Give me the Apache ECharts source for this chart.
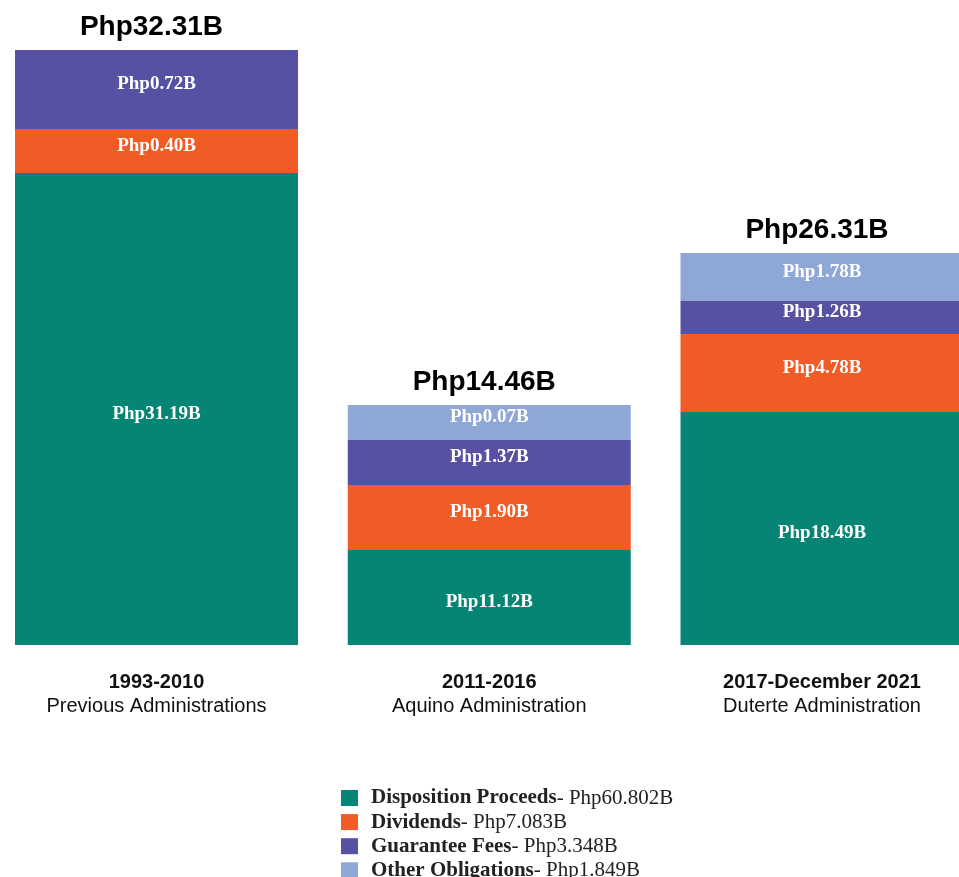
<!DOCTYPE html>
<html>
<head>
<meta charset="utf-8">
<script src="https://cdn.jsdelivr.net/npm/echarts@6/dist/echarts.min.js"></script>
<style>
  html, body { margin: 0; padding: 0; background: #fff; overflow: hidden; }
  #main { width: 959px; height: 900px; }
</style>
</head>
<body>
<div id="main"></div>
<script>
// periods and administrations (x axis)
var periods = ["1993-2010", "2011-2016", "2017-December 2021"];
var admins = ["Previous Administrations", "Aquino Administration", "Duterte Administration"];

// segment heights as drawn in the picture (the infographic is not to scale)
var dispositionDrawn = [472, 95, 233];
var dividendsDrawn = [44, 65, 78];
var guaranteeDrawn = [79, 45, 33];
var otherDrawn = [0, 35, 48];

// amounts printed on the segments, in billions of pesos
var dispositionText = ["31.19", "11.12", "18.49"];
var dividendsText = ["0.40", "1.90", "4.78"];
var guaranteeText = ["0.72", "1.37", "1.26"];
var otherText = ["", "0.07", "1.78"];

// totals above each bar
var totalText = ["32.31", "14.46", "26.31"];

// legend entries and their overall totals
var seriesNames = ["Disposition Proceeds", "Dividends", "Guarantee Fees", "Other Obligations"];
var legendTotals = ["60.802", "7.083", "3.348", "1.849"];

var colors = ["#068575", "#F15B26", "#5651A3", "#8FA7D6"];
var serif = "'Liberation Serif', 'DejaVu Serif', serif";
var sans = "'Liberation Sans', Arial, sans-serif";

function segment(name, values, texts, color, dy) {
  return {
    name: name,
    type: "bar",
    stack: "all",
    barWidth: 283,
    clip: false,
    data: values,
    itemStyle: { color: color },
    label: {
      show: true,
      position: "inside",
      offset: [0, dy],
      color: "#fff",
      fontFamily: serif,
      fontWeight: "bold",
      fontSize: 19,
      formatter: function (p) {
        return texts[p.dataIndex] ? "Php" + texts[p.dataIndex] + "B" : "";
      }
    }
  };
}

var myChart = echarts.init(document.getElementById("main"));
myChart.setOption({
  animation: false,
  color: colors,
  // bars sit on the category points, so the grid spans the first to last bar centre
  grid: { left: 156.5, right: 137, top: 0, bottom: 255 },
  xAxis: {
    type: "category",
    data: periods,
    boundaryGap: false,
    axisLine: { show: false },
    axisTick: { show: false },
    axisLabel: {
      interval: 0,
      margin: 25,
      formatter: function (v, i) {
        return "{b|" + v + "}\n{n|" + admins[i] + "}";
      },
      rich: {
        b: { fontFamily: sans, fontWeight: "bold", fontSize: 20, lineHeight: 24, color: "#111" },
        n: { fontFamily: sans, fontSize: 20, lineHeight: 24, color: "#111" }
      }
    }
  },
  yAxis: { type: "value", min: 0, max: 645, show: false, splitLine: { show: false } },
  legend: {
    data: seriesNames,
    orient: "vertical",
    left: 341,
    top: 787.5,
    padding: 0,
    icon: "rect",
    itemWidth: 17,
    itemHeight: 16,
    itemGap: 3.1,
    selectedMode: false,
    formatter: function (name) {
      var i = seriesNames.indexOf(name);
      return "{b|" + name + "}{r|- Php" + legendTotals[i] + "B}";
    },
    textStyle: {
      rich: {
        b: { fontFamily: serif, fontWeight: "bold", fontSize: 21, lineHeight: 20, color: "#222", padding: [0, 0, 0, 8] },
        r: { fontFamily: serif, fontSize: 21, lineHeight: 20, color: "#222" }
      }
    }
  },
  series: [
    segment(seriesNames[0], dispositionDrawn, dispositionText, colors[0], 5),
    segment(seriesNames[1], dividendsDrawn, dividendsText, colors[1], -5),
    segment(seriesNames[2], guaranteeDrawn, guaranteeText, colors[2], -5),
    segment(seriesNames[3], otherDrawn, otherText, colors[3], -5),
    {
      name: "total",
      type: "bar",
      stack: "all",
      barWidth: 283,
      clip: false,
      data: [0, 0, 0],
      itemStyle: { color: "transparent" },
      label: {
        show: true,
        position: "top",
        distance: 9,
        offset: [-5, 0],
        color: "#000",
        fontFamily: sans,
        fontWeight: "bold",
        fontSize: 28,
        formatter: function (p) {
          return "Php" + totalText[p.dataIndex] + "B";
        }
      }
    }
  ]
});
</script>
</body>
</html>
